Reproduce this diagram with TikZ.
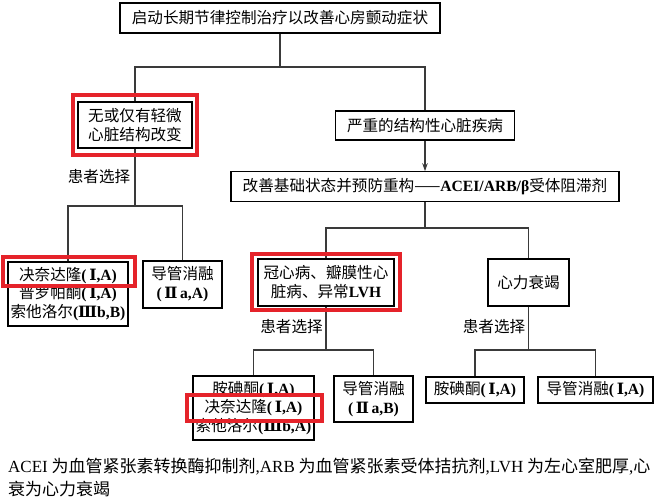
\documentclass[tikz,border=0pt]{standalone}
\usepackage{fontspec}
\setmainfont{Liberation Serif}
\newfontfamily\cjk{Noto Sans CJK SC}
\newfontfamily\romfont{DejaVu Serif}
\usetikzlibrary{arrows.meta}
\newcommand\lat[1]{{\rmfamily\bfseries #1}}
\newcommand\rI{{\romfont\bfseries\,Ⅰ}}
\newcommand\rII{{\romfont\bfseries\,Ⅱ}}
\newcommand\rIII{{\romfont\bfseries Ⅲ}}
\definecolor{redmark}{HTML}{E5232A}
\definecolor{linegray}{HTML}{3A3A3A}
\begin{document}
\begin{tikzpicture}[x=1pt,y=-1pt,
  box/.style={draw=black, line width=1.1pt, fill=white, align=center, inner sep=0pt,
    font=\cjk\fontsize{15.6}{19}\selectfont},
  listbox/.style={box, font=\cjk\fontsize{15.6}{18.6}\selectfont},
  conn/.style={draw=linegray, line width=1.4pt},
  redbox/.style={draw=redmark, line width=3.3pt, inner sep=0pt},
  lbl/.style={font=\cjk\fontsize{15.6}{19}\selectfont, inner sep=0pt},
  captext/.style={font=\cjk\fontsize{17}{21}\selectfont, inner sep=0pt, anchor=west}]
\useasboundingbox (0,0) rectangle (667,501);
\fill[white] (0,0) rectangle (667,501);

% boxes
\node[box, minimum width=320pt, minimum height=30pt] (top) at (280,18) {启动长期节律控制治疗以改善心房颤动症状};
\node[box, minimum width=114pt, minimum height=46pt] (n1) at (135,125) {无或仅有轻微\\心脏结构改变};
\node[box, minimum width=179pt, minimum height=29pt] (n2) at (425,125.5) {严重的结构性心脏疾病};
\node[box, minimum width=388pt, minimum height=29.5pt] (n3) at (425,186.5) {改善基础状态并预防重构——\lat{ACEI/ARB/β}受体阻滞剂};
\node[box, minimum width=136pt, minimum height=47pt] (n4) at (326,282.5) {冠心病、瓣膜性心\\脏病、异常\lat{LVH}};
\node[box, minimum width=81pt, minimum height=47pt] (n5) at (528.5,282.5) {心力衰竭};
\node[listbox, minimum width=120pt, minimum height=64pt] (n6) at (68,294) {决奈达隆\lat{(}\rI\lat{,A)}\\普罗帕酮\lat{(}\rI\lat{,A)}\\索他洛尔\lat{(}\rIII\lat{b,B)}};
\node[box, minimum width=79pt, minimum height=47pt] (n7) at (182.5,284.5) {导管消融\\\lat{(}\rII\lat{\,a,A)}};
\node[listbox, minimum width=121pt, minimum height=64pt] (n8) at (253.5,408) {胺碘酮\lat{(}\rI\lat{,A)}\\决奈达隆\lat{(}\rI\lat{,A)}\\索他洛尔\lat{(}\rIII\lat{b,A)}};
\node[box, minimum width=79pt, minimum height=46pt] (n9) at (373.5,399) {导管消融\\\lat{(}\rII\lat{\,a,B)}};
\node[box, minimum width=98pt, minimum height=26pt] (n10) at (475,390) {胺碘酮\lat{(}\rI\lat{,A)}};
\node[box, minimum width=115pt, minimum height=26pt] (n11) at (595.5,390) {导管消融\lat{(}\rI\lat{,A)}};

% junctions
\coordinate (j1) at (280,67);
\coordinate (j2) at (425,228);
\coordinate (j3) at (135,206);
\coordinate (j4) at (326,350);
\coordinate (j5) at (528.5,350);

% connectors
\draw[conn] (top.south) -- (j1);
\draw[conn] (n1.north) |- (j1) -| (n2.north);
\draw[conn, -{Stealth[length=8pt,width=5.5pt]}] (n2.south) -- (n3.north);
\draw[conn] (n3.south) -- (j2);
\draw[conn] (n4.north) |- (j2) -| (n5.north);
\draw[conn] (n1.south) -- (j3);
\draw[conn] (n6.north) |- (j3) -| (n7.north);
\draw[conn] (n4.south) -- (j4);
\draw[conn] (n8.north) |- (j4) -| (n9.north);
\draw[conn] (n5.south) -- (j5);
\draw[conn] (n10.north) |- (j5) -| (n11.north);

% labels
\node[lbl] (l1) at (99,177) {患者选择};
\node[lbl] (l2) at (291.5,327) {患者选择};
\node[lbl] (l3) at (494,327) {患者选择};

% red highlights
\node[redbox, minimum width=124pt, minimum height=60pt] (r1) at (135,125) {};
\node[redbox, minimum width=132pt, minimum height=29pt] (r2) at (69,271.5) {};
\node[redbox, minimum width=148pt, minimum height=56pt] (r3) at (326,282) {};
\node[redbox, minimum width=135pt, minimum height=26pt] (r4) at (254.5,408) {};

% caption
\node[captext] (c1) at (8,467) {{\rmfamily ACEI} 为血管紧张素转换酶抑制剂{\rmfamily ,ARB} 为血管紧张素受体拮抗剂{\rmfamily ,LVH} 为左心室肥厚{\rmfamily ,}心};
\node[captext] (c2) at (8,489) {衰为心力衰竭};
\end{tikzpicture}
\end{document}
